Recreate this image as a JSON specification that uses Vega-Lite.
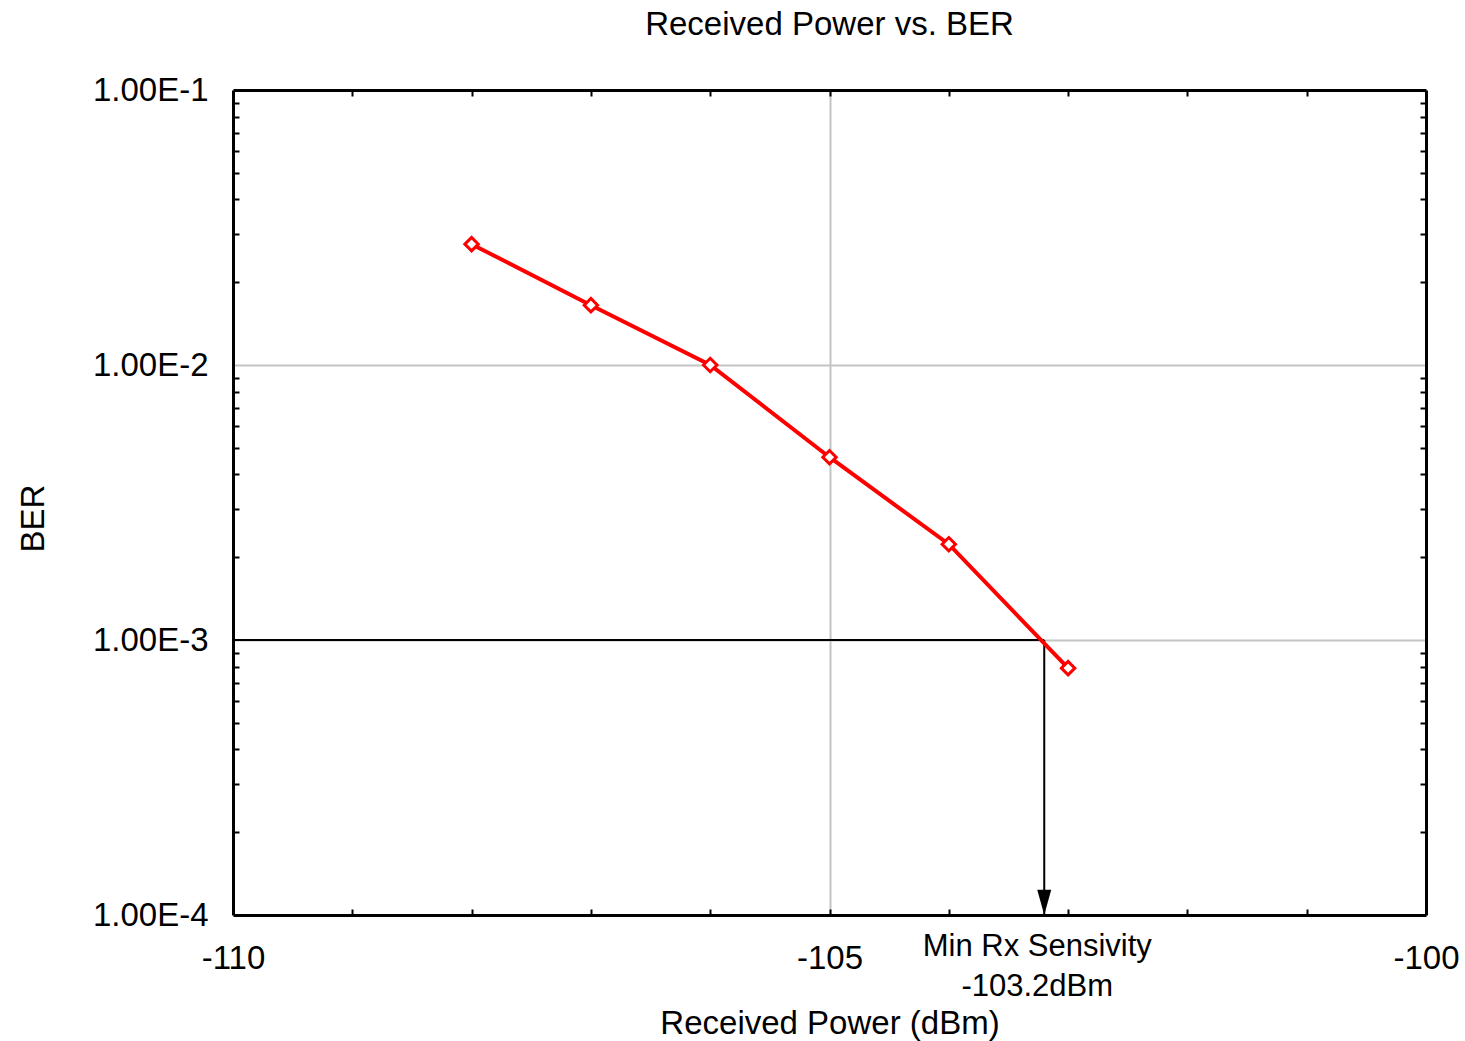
{
  "$schema": "https://vega.github.io/schema/vega-lite/v6.json",
  "width": 1193,
  "height": 825,
  "autosize": {"type": "none"},
  "padding": {"left": 233, "top": 90, "right": 39, "bottom": 126},
  "background": "white",
  "config": {
    "view": {"stroke": null},
    "font": "Liberation Sans",
    "axis": {"labelFont": "Liberation Sans", "titleFont": "Liberation Sans", "labelColor": "black", "titleColor": "black", "titleFontWeight": "normal"}
  },
  "title": {"text": "Received Power vs. BER", "font": "Liberation Sans", "fontSize": 33, "fontWeight": "normal", "color": "black", "anchor": "middle", "frame": "group", "baseline": "alphabetic", "offset": 6},
  "datasets": {
    "ber": [
      {"power": -108, "ber": 0.0275},
      {"power": -107, "ber": 0.0165},
      {"power": -106, "ber": 0.0100},
      {"power": -105, "ber": 0.00462},
      {"power": -104, "ber": 0.00223},
      {"power": -103, "ber": 0.00079}
    ],
    "hline": [{"x1": -110, "x2": -103.2, "y": 0.001}],
    "vline": [{"x": -103.2, "y1": 0.001, "y2": 0.0001}],
    "note": [{"x": -103.2, "y": 0.0001, "label": "Min Rx Sensivity\n-103.2dBm"}]
  },
  "resolve": {"axis": {"x": "independent", "y": "independent"}},
  "layer": [
    {
      "data": {"name": "hline"},
      "mark": {"type": "rule", "color": "black", "strokeWidth": 2},
      "encoding": {
        "x": {"field": "x1", "type": "quantitative", "scale": {"domain": [-110, -100], "nice": false, "zero": false},
          "axis": {"orient": "bottom", "values": [-105], "labels": false, "ticks": false, "domain": false, "grid": true, "gridColor": "#c4c4c4", "gridWidth": 2, "title": null}},
        "x2": {"field": "x2"},
        "y": {"field": "y", "type": "quantitative", "scale": {"type": "log", "domain": [0.0001, 0.1], "nice": false},
          "axis": {"orient": "left", "values": [0.01, 0.001], "labels": false, "ticks": false, "domain": false, "grid": true, "gridColor": "#c4c4c4", "gridWidth": 2, "title": null}}
      }
    },
    {
      "data": {"name": "vline"},
      "mark": {"type": "rule", "color": "black", "strokeWidth": 2},
      "encoding": {
        "x": {"field": "x", "type": "quantitative",
          "axis": {"orient": "top", "values": [-109, -108, -107, -106, -105, -104, -103, -102, -101], "labels": false, "ticks": true, "tickSize": -6, "tickWidth": 2, "tickColor": "black", "domain": true, "domainColor": "black", "domainWidth": 3, "grid": false, "title": null}},
        "y": {"field": "y1", "type": "quantitative",
          "axis": {"orient": "right", "values": [0.0002, 0.0003, 0.0004, 0.0005, 0.0006, 0.0007, 0.0008, 0.0009, 0.002, 0.003, 0.004, 0.005, 0.006, 0.007, 0.008, 0.009, 0.02, 0.03, 0.04, 0.05, 0.06, 0.07, 0.08, 0.09], "labels": false, "ticks": true, "tickSize": -6, "tickWidth": 2, "tickColor": "black", "domain": true, "domainColor": "black", "domainWidth": 3, "grid": false, "title": null}},
        "y2": {"field": "y2"}
      }
    },
    {
      "data": {"name": "ber"},
      "mark": {"type": "line", "color": "#ff0000", "strokeWidth": 4},
      "encoding": {
        "x": {"field": "power", "type": "quantitative",
          "axis": {"orient": "bottom", "values": [-110, -105, -100], "labelExpr": "'' + datum.value", "labelFontSize": 33, "labelFlush": false, "labelBaseline": "alphabetic", "labelPadding": 53, "ticks": false, "domain": false, "grid": false,
            "title": "Received Power (dBm)", "titleFontSize": 33, "titleBaseline": "alphabetic", "titleY": 118}},
        "y": {"field": "ber", "type": "quantitative",
          "axis": {"orient": "left", "values": [0.1, 0.01, 0.001, 0.0001], "labelExpr": "'1.00E' + round(log(datum.value) / LN10)", "labelFontSize": 33, "labelFlush": false, "labelBaseline": "middle", "labelPadding": 25, "ticks": false, "domain": false, "grid": false,
            "title": "BER", "titleFontSize": 33, "titleBaseline": "alphabetic", "titleAlign": "center", "titleAngle": 270, "titleX": -190, "titleY": 428}}
      }
    },
    {
      "data": {"name": "ber"},
      "mark": {"type": "point", "shape": "diamond", "filled": true, "fill": "white", "stroke": "#ff0000", "strokeWidth": 3, "size": 180, "opacity": 1},
      "encoding": {
        "x": {"field": "power", "type": "quantitative",
          "axis": {"orient": "bottom", "values": [-109, -108, -107, -106, -105, -104, -103, -102, -101], "labels": false, "ticks": true, "tickSize": -6, "tickWidth": 2, "tickColor": "black", "domain": true, "domainColor": "black", "domainWidth": 3, "grid": false, "title": null}},
        "y": {"field": "ber", "type": "quantitative",
          "axis": {"orient": "left", "values": [0.0002, 0.0003, 0.0004, 0.0005, 0.0006, 0.0007, 0.0008, 0.0009, 0.002, 0.003, 0.004, 0.005, 0.006, 0.007, 0.008, 0.009, 0.02, 0.03, 0.04, 0.05, 0.06, 0.07, 0.08, 0.09], "labels": false, "ticks": true, "tickSize": -6, "tickWidth": 2, "tickColor": "black", "domain": true, "domainColor": "black", "domainWidth": 3, "grid": false, "title": null}}
      }
    },
    {
      "data": {"name": "note"},
      "mark": {"type": "point", "shape": "M-0.5,-1.8L0.5,-1.8L0,0Z", "filled": true, "color": "black", "size": 784, "opacity": 1},
      "encoding": {
        "x": {"field": "x", "type": "quantitative", "axis": null},
        "y": {"field": "y", "type": "quantitative", "axis": null}
      }
    },
    {
      "data": {"name": "note"},
      "mark": {"type": "text", "font": "Liberation Sans", "fontSize": 31, "color": "black", "align": "center", "baseline": "alphabetic", "dy": 41, "dx": -7, "lineBreak": "\n", "lineHeight": 40},
      "encoding": {
        "x": {"field": "x", "type": "quantitative", "axis": null},
        "y": {"field": "y", "type": "quantitative", "axis": null},
        "text": {"field": "label"}
      }
    }
  ]
}
